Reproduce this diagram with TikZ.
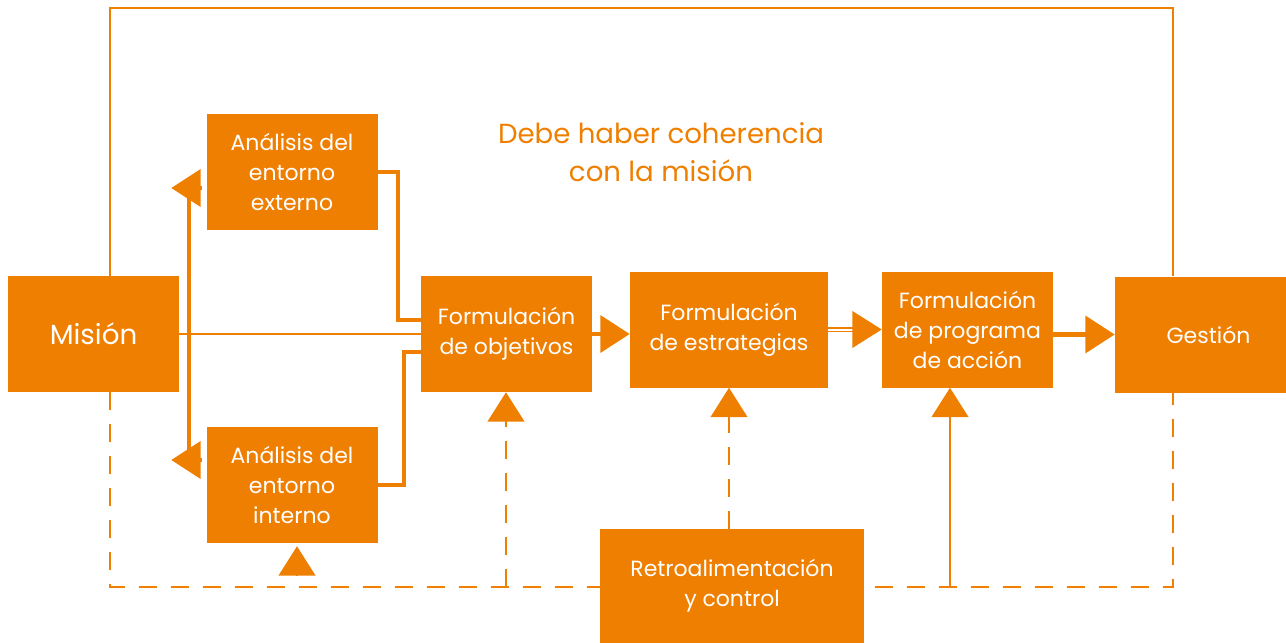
\documentclass[tikz,border=0pt]{standalone}
\usepackage{fontspec}
\setmainfont{Poppins}
\usetikzlibrary{arrows.meta,backgrounds}
\definecolor{naranja}{RGB}{239,127,0}

\begin{document}
\begin{tikzpicture}
  [x=0.75pt, y=-0.75pt,
   caja/.style={rectangle, fill=naranja, text=white, align=center,
     minimum width=128.25pt, minimum height=87pt, inner sep=0pt,
     font=\fontsize{16.5}{22.5}\selectfont},
   fina/.style={draw=naranja, line width=1.5pt},
   gruesa/.style={draw=naranja, line width=3.5pt},
   rayada/.style={fina, dash pattern=on 13.5pt off 10.5pt},
   doble/.style={draw=naranja, line width=1pt, double=white, double distance=1.5pt},
   punta/.style={-{Triangle[length=22pt,width=27.5pt]}}]

  \useasboundingbox (0,0) rectangle (1286,643);

  % cajas
  \node[caja, font=\fontsize{20.8}{26}\selectfont]
    (mision) at (93.5,334) {Misión};
  \node[caja] (extA) at (292,172) {Análisis del\\entorno\\externo};
  \node[caja] (intA) at (292,485) {Análisis del\\entorno\\interno};
  \node[caja] (obj) at (506.5,334) {Formulación\\de objetivos};
  \node[caja, minimum width=148.5pt]
    (estr) at (729,329.5) {Formulación\\de estrategias};
  \node[caja] (prog) at (967.5,329.5) {Formulación\\de programa\\de acción};
  \node[caja] (gest) at (1200.5,334.5) {\hspace*{12pt}Gestión};
  \node[caja, minimum width=198pt, minimum height=85.5pt]
    (retro) at (732,586) {Retroalimentación\\y control};
  \node[text=naranja, align=center, font=\fontsize{20.7}{28.5}\selectfont]
    (lema) at (661,152) {Debe haber coherencia\\con la misión};

  % puntos de paso
  \coordinate (arrI) at (110,8);
  \coordinate (arrD) at (1173,8);
  \coordinate (abI) at (110,587);
  \coordinate (abD) at (1173,587);
  \coordinate (ramS) at (189,188);
  \coordinate (ramI) at (189,460);
  \coordinate (codoE) at (398,320);
  \coordinate (codoI) at (404,352);
  \coordinate (retObj) at (506,587);
  \coordinate (retProg) at (950,587);
  \coordinate (retInt) at (297,576);

  \begin{pgfonlayer}{background}
    \draw[fina] (arrI |- mision.north) -- (arrI) -- (arrD) -- (arrD |- gest.north);
    \draw[rayada] (abI |- mision.south) -- (abI) -- (abD) -- (abD |- gest.south);
    \draw[fina] (mision.east) -- (obj.west);
    \draw[gruesa] (ramS) -- (ramI);
    \draw[gruesa,punta,shorten <=3pt] (extA.west |- ramS) -- ++(-35,0);
    \draw[gruesa,punta,shorten <=3pt] (intA.west |- ramI) -- ++(-35,0);
    \draw[gruesa] (extA.east) -| (codoE) -- (codoE -| obj.west);
    \draw[gruesa] (intA.east) -| (codoI) -- (codoI -| obj.west);
    \draw[gruesa,punta] (obj.east) -- (obj.east -| estr.west);
    \draw[doble,punta] (estr.east) -- (prog.west);
    \draw[gruesa,punta] (gest.west -| prog.east) -- (gest.west);
    \draw[rayada,punta] (retObj) -- (retObj |- obj.south);
    \draw[rayada,punta] (retro.north -| estr.south) -- (estr.south);
    \draw[fina,punta] (retProg) -- (retProg |- prog.south);
    \draw[fina,punta,shorten >=2.25pt] (retInt) -- (retInt |- intA.south);
  \end{pgfonlayer}
\end{tikzpicture}
\end{document}
